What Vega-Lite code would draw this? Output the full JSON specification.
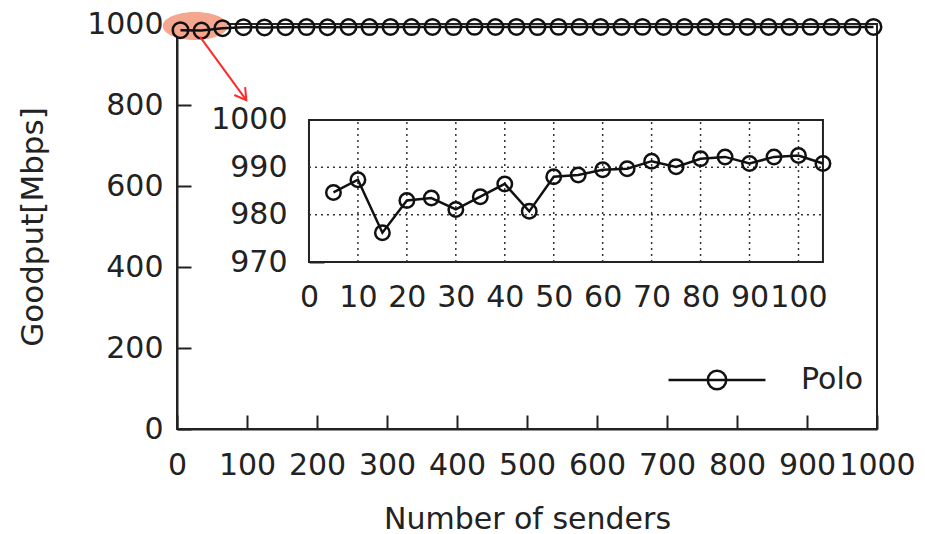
{
  "$schema": "https://vega.github.io/schema/vega-lite/v6.json",
  "width": 700,
  "height": 405,
  "autosize": "none",
  "padding": {"left": 177, "top": 24, "right": 48, "bottom": 105},
  "background": "white",
  "view": {"stroke": "#222", "strokeWidth": 2},
  "config": {
    "font": "DejaVu Sans",
    "axis": {
      "labelFont": "DejaVu Sans", "labelFontSize": 30, "labelColor": "#222",
      "titleFont": "DejaVu Sans", "titleFontSize": 30, "titleFontWeight": "normal", "titleColor": "#222",
      "domainColor": "#222", "domainWidth": 2, "tickColor": "#222", "tickWidth": 2,
      "labelOverlap": false, "labelFlush": false, "format": "d"
    },
    "legend": {"labelFont": "DejaVu Sans", "labelFontSize": 30, "labelColor": "#222"}
  },
  "datasets": {
    "main": [
      {"n": 5, "g": 984.7, "s": "Polo"}, {"n": 35, "g": 983.8, "s": "Polo"}, {"n": 65, "g": 989.7, "s": "Polo"},
      {"n": 95, "g": 992.2, "s": "Polo"}, {"n": 125, "g": 991.6, "s": "Polo"}, {"n": 155, "g": 992.1, "s": "Polo"},
      {"n": 185, "g": 992.4, "s": "Polo"}, {"n": 215, "g": 992.0, "s": "Polo"}, {"n": 245, "g": 992.6, "s": "Polo"},
      {"n": 275, "g": 992.3, "s": "Polo"}, {"n": 305, "g": 992.7, "s": "Polo"}, {"n": 335, "g": 992.5, "s": "Polo"},
      {"n": 365, "g": 992.8, "s": "Polo"}, {"n": 395, "g": 992.4, "s": "Polo"}, {"n": 425, "g": 992.9, "s": "Polo"},
      {"n": 455, "g": 992.6, "s": "Polo"}, {"n": 485, "g": 992.8, "s": "Polo"}, {"n": 515, "g": 992.5, "s": "Polo"},
      {"n": 545, "g": 992.9, "s": "Polo"}, {"n": 575, "g": 992.7, "s": "Polo"}, {"n": 605, "g": 992.8, "s": "Polo"},
      {"n": 635, "g": 992.6, "s": "Polo"}, {"n": 665, "g": 992.9, "s": "Polo"}, {"n": 695, "g": 992.7, "s": "Polo"},
      {"n": 725, "g": 992.8, "s": "Polo"}, {"n": 755, "g": 992.6, "s": "Polo"}, {"n": 785, "g": 992.9, "s": "Polo"},
      {"n": 815, "g": 992.7, "s": "Polo"}, {"n": 845, "g": 992.8, "s": "Polo"}, {"n": 875, "g": 992.6, "s": "Polo"},
      {"n": 905, "g": 992.9, "s": "Polo"}, {"n": 935, "g": 992.7, "s": "Polo"}, {"n": 965, "g": 992.8, "s": "Polo"},
      {"n": 995, "g": 992.7, "s": "Polo"}
    ],
    "inset": [
      {"n": 5, "g": 984.7}, {"n": 10, "g": 987.4}, {"n": 15, "g": 976.2}, {"n": 20, "g": 983.0},
      {"n": 25, "g": 983.5}, {"n": 30, "g": 981.1}, {"n": 35, "g": 983.8}, {"n": 40, "g": 986.5},
      {"n": 45, "g": 980.7}, {"n": 50, "g": 988.0}, {"n": 55, "g": 988.4}, {"n": 60, "g": 989.5},
      {"n": 65, "g": 989.7}, {"n": 70, "g": 991.3}, {"n": 75, "g": 990.1}, {"n": 80, "g": 991.8},
      {"n": 85, "g": 992.2}, {"n": 90, "g": 990.8}, {"n": 95, "g": 992.2}, {"n": 100, "g": 992.5},
      {"n": 105, "g": 990.8}
    ],
    "xgrid": [{"v": 10}, {"v": 20}, {"v": 30}, {"v": 40}, {"v": 50}, {"v": 60}, {"v": 70}, {"v": 80}, {"v": 90}, {"v": 100}],
    "ygrid": [{"v": 980}, {"v": 990}],
    "one": [{}]
  },
  "layer": [
    {
      "layer": [
        {
          "data": {"name": "one"},
          "mark": {"type": "point", "shape": "M-1,0 A1,0.43 0 1,0 1,0 A1,0.43 0 1,0 -1,0 Z", "filled": true, "color": "#f4a68f", "opacity": 1, "size": 4225},
          "encoding": {"x": {"datum": 26, "type": "quantitative"}, "y": {"datum": 995, "type": "quantitative"}}
        },
        {
          "data": {"name": "main"},
          "mark": {"type": "line", "color": "#111", "strokeWidth": 2.5},
          "encoding": {
            "x": {"field": "n", "type": "quantitative", "scale": {"domain": [0, 1000], "nice": false},
              "axis": {"orient": "bottom", "title": "Number of senders", "values": [0,100,200,300,400,500,600,700,800,900,1000], "tickSize": -14, "labelPadding": 35, "titlePadding": 24, "grid": false}},
            "y": {"field": "g", "type": "quantitative", "scale": {"domain": [0, 1000], "nice": false},
              "axis": {"orient": "left", "title": "Goodput[Mbps]", "titleFontSize": 31, "values": [0,200,400,600,800,1000], "tickSize": -14, "labelPadding": 28, "titlePadding": 37, "grid": false}}
          }
        },
        {
          "data": {"name": "main"},
          "mark": {"type": "point", "filled": false, "strokeWidth": 2.5, "size": 240, "opacity": 1},
          "encoding": {
            "x": {"field": "n", "type": "quantitative"},
            "y": {"field": "g", "type": "quantitative"},
            "color": {"field": "s", "type": "nominal", "scale": {"range": ["#111"]},
              "legend": {"title": null, "orient": "none", "legendX": 490, "legendY": 306,
                "symbolType": "M-1,0 L1,0 M0.19,0 A0.19,0.19 0 1,1 -0.19,0 A0.19,0.19 0 1,1 0.19,0",
                "symbolSize": 9400, "symbolStrokeWidth": 2.5, "symbolStrokeColor": "#111", "symbolFillColor": "transparent", "labelOffset": 34}}
          }
        },
        {
          "data": {"name": "one"},
          "mark": {"type": "rule", "color": "#ff2a2a", "strokeWidth": 2},
          "encoding": {"x": {"datum": 33, "type": "quantitative"}, "y": {"datum": 968, "type": "quantitative"}, "x2": {"datum": 99}, "y2": {"datum": 812}}
        },
        {
          "data": {"name": "one"},
          "mark": {"type": "point", "shape": "M-0.6,1 L0,0 L0.6,1", "filled": false, "color": "#ff2a2a", "strokeWidth": 2, "size": 500, "angle": 144, "opacity": 1},
          "encoding": {"x": {"datum": 99, "type": "quantitative"}, "y": {"datum": 812, "type": "quantitative"}}
        }
      ]
    },
    {
      "layer": [
        {
          "data": {"name": "one"},
          "mark": {"type": "rect", "fill": "white", "stroke": "#222", "strokeWidth": 2},
          "encoding": {"x": {"datum": 0, "type": "quantitative"}, "x2": {"datum": 105}, "y": {"datum": 970, "type": "quantitative"}, "y2": {"datum": 1000}}
        },
        {
          "data": {"name": "xgrid"},
          "mark": {"type": "rule", "color": "#333", "strokeWidth": 1.5, "strokeDash": [2, 4]},
          "encoding": {"x": {"field": "v", "type": "quantitative"}, "y": {"datum": 970, "type": "quantitative"}, "y2": {"datum": 1000}}
        },
        {
          "data": {"name": "ygrid"},
          "mark": {"type": "rule", "color": "#333", "strokeWidth": 1.5, "strokeDash": [2, 4]},
          "encoding": {"y": {"field": "v", "type": "quantitative"}, "x": {"datum": 0, "type": "quantitative"}, "x2": {"datum": 105}}
        },
        {
          "data": {"name": "inset"},
          "mark": {"type": "line", "color": "#111", "strokeWidth": 2.5},
          "encoding": {
            "x": {"field": "n", "type": "quantitative", "scale": {"domain": [-26.96, 116.04], "nice": false, "zero": false},
              "axis": {"orient": "bottom", "offset": -167, "title": null, "domain": false, "values": [0,10,20,30,40,50,60,70,80,90,100], "tickSize": -15, "labelPadding": 35, "grid": false}},
            "y": {"field": "g", "type": "quantitative", "scale": {"domain": [934.72, 1020.28], "nice": false, "zero": false},
              "axis": {"orient": "left", "offset": -132, "title": null, "domain": false, "values": [970,980,990,1000], "tickSize": -15, "labelPadding": 37, "grid": false}}
          }
        },
        {
          "data": {"name": "inset"},
          "mark": {"type": "point", "filled": false, "color": "#111", "strokeWidth": 2.5, "size": 210, "opacity": 1},
          "encoding": {"x": {"field": "n", "type": "quantitative"}, "y": {"field": "g", "type": "quantitative"}}
        }
      ]
    }
  ],
  "resolve": {"scale": {"x": "independent", "y": "independent"}, "axis": {"x": "independent", "y": "independent"}}
}
